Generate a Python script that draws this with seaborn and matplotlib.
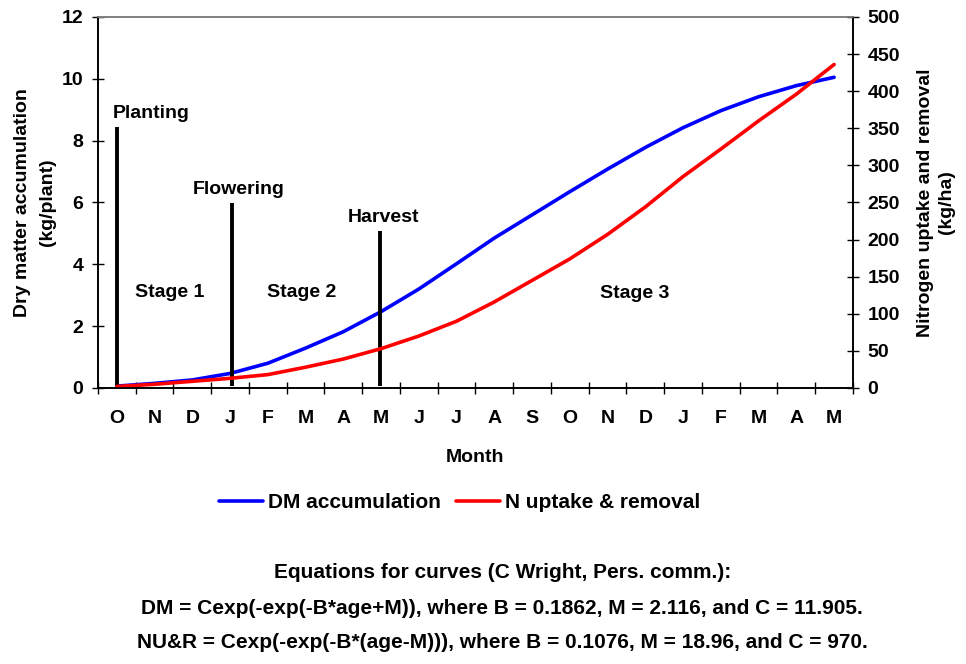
import numpy as np
import pandas as pd
import matplotlib
matplotlib.use("Agg")
import matplotlib.pyplot as plt
import seaborn as sns
from matplotlib.lines import Line2D

sns.set_theme(style="white")
plt.rcParams["font.family"] = ["Liberation Sans", "DejaVu Sans"]
plt.rcParams["font.weight"] = "bold"
plt.rcParams["text.color"] = "black"
plt.rcParams["axes.labelcolor"] = "black"
plt.rcParams["xtick.color"] = "black"
plt.rcParams["ytick.color"] = "black"

# Months from planting (October) through to the second May
months = ["O", "N", "D", "J", "F", "M", "A", "M", "J", "J",
          "A", "S", "O", "N", "D", "J", "F", "M", "A", "M"]

# Dry matter accumulation (kg/plant)
dm_values = [0.06, 0.15, 0.26, 0.47, 0.80, 1.29, 1.82, 2.47, 3.20, 4.02,
             4.85, 5.60, 6.35, 7.08, 7.78, 8.42, 8.97, 9.42, 9.78, 10.05]

# Nitrogen uptake and removal (kg/ha)
n_values = [2, 5, 9, 13, 18, 28, 39, 53, 70, 90,
            116, 145, 174, 207, 244, 285, 322, 360, 396, 436]

# Crop events: (label, month index, line height in kg/plant)
event_names = ["Planting", "Flowering", "Harvest"]
event_pos = [0.0, 3.05, 6.97]
event_top = [8.45, 5.98, 5.08]

stage_names = ["Stage 1", "Stage 2", "Stage 3"]
stage_x = [1.41, 4.9, 13.72]
stage_y = [3.1, 3.1, 3.07]

FS = 14

df = pd.DataFrame({"idx": np.arange(len(months)), "DM": dm_values, "N": n_values})

fig = plt.figure(figsize=(9.66, 6.64), dpi=100)
ax = fig.add_axes([0.1014, 0.4157, 0.7816, 0.5587])
ax2 = ax.twinx()

sns.lineplot(data=df, x="idx", y="DM", ax=ax, color="#0000ff", linewidth=2.6)
sns.lineplot(data=df, x="idx", y="N", ax=ax2, color="#ff0000", linewidth=2.6)

# Event markers
for name, pos, top in zip(event_names, event_pos, event_top):
    ax.vlines(pos, 0.05, top, color="black", linewidth=2.8, zorder=3)
for name, pos, top, dx in zip(event_names, event_pos, event_top, [-0.1, -1.03, -0.85]):
    ax.text(pos + dx, top + 0.43, name, fontsize=FS, fontweight="bold",
            ha="left", va="center")

for name, sx, sy in zip(stage_names, stage_x, stage_y):
    ax.text(sx, sy, name, fontsize=FS, fontweight="bold", ha="center", va="center")

# Axes limits and ticks
ax.set_xlim(-0.5, len(months) - 0.5)
ax.set_ylim(0, 12)
ax2.set_ylim(0, 500)
ax.set_yticks(np.arange(0, 13, 2))
ax2.set_yticks(np.arange(0, 501, 50))
ax.set_xticks(np.arange(len(months)))
ax.set_xticklabels(months)
ax.set_xticks(np.arange(-0.5, len(months), 1.0), minor=True)

ax.tick_params(axis="x", which="major", length=0, pad=16, labelsize=FS)
ax.tick_params(axis="x", which="minor", direction="inout", length=9, width=1,
               color="black", bottom=True)
ax.tick_params(axis="y", direction="inout", length=9, width=1, color="black",
               left=True, labelsize=FS, pad=6)
ax2.tick_params(axis="y", direction="inout", length=9, width=1, color="black",
                right=True, labelsize=FS, pad=6)
for lab in ax.get_xticklabels() + ax.get_yticklabels() + ax2.get_yticklabels():
    lab.set_fontweight("bold")

for a in (ax, ax2):
    for side in ("left", "right", "bottom"):
        a.spines[side].set_color("black")
        a.spines[side].set_linewidth(1.2)
    a.spines["top"].set_color("#808080")
    a.spines["top"].set_linewidth(1.2)

ax.set_xlabel("Month", fontsize=FS, fontweight="bold", labelpad=16)
ax.set_ylabel("Dry matter accumulation\n(kg/plant)", fontsize=FS,
              fontweight="bold", labelpad=4, linespacing=1.6)
ax2.set_ylabel("Nitrogen uptake and removal\n(kg/ha)", fontsize=FS,
               fontweight="bold", labelpad=12, linespacing=1.3)

# Legend below the plot
handles = [Line2D([], [], color="#0000ff", linewidth=2.6),
           Line2D([], [], color="#ff0000", linewidth=2.6)]
fig.legend(handles, ["DM accumulation", "N uptake & removal"], loc="center",
           bbox_to_anchor=(0.476, 0.2425), ncol=2, frameon=False,
           prop={"size": 15, "weight": "bold"}, handlelength=2.1,
           handletextpad=0.25, columnspacing=0.75)

# Curve equations
eq_lines = ["Equations for curves (C Wright, Pers. comm.):",
            "DM = Cexp(-exp(-B*age+M)), where B = 0.1862, M = 2.116, and C = 11.905.",
            "NU&R = Cexp(-exp(-B*(age-M))), where B = 0.1076, M = 18.96, and C = 970."]
for i, line in enumerate(eq_lines):
    fig.text(0.52, 1 - (573 + 35 * i) / 664, line, ha="center", va="center",
             fontsize=15, fontweight="bold")

fig.savefig("out.png", dpi=100, facecolor="white")
